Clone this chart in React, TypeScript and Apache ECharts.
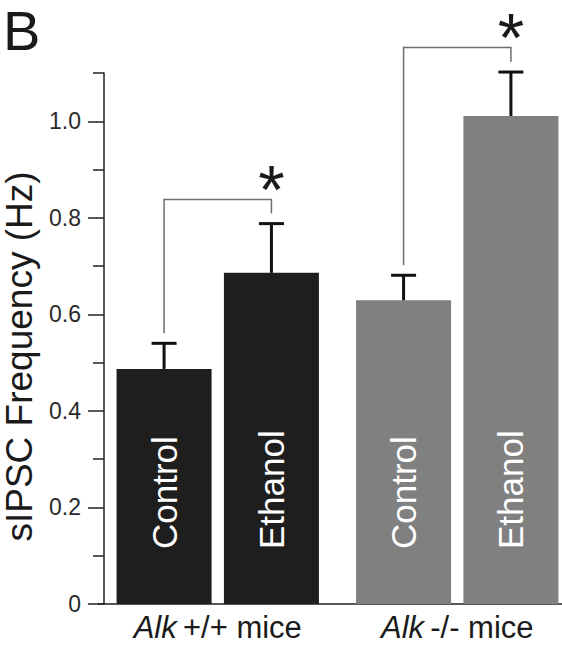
import React, { useEffect, useRef } from 'react';
import * as echarts from 'echarts';

const genotypes = ['Alk+/+ mice', 'Alk-/- mice'];
const treatments = ['Control', 'Ethanol'];
const controlMean = [0.487, 0.629];
const controlSem = [0.053, 0.052];
const ethanolMean = [0.686, 1.011];
const ethanolSem = [0.102, 0.091];
const bracketLevel = [0.838, 1.153];
const significance = ['*', '*'];
const yMajorTicks = [0, 0.2, 0.4, 0.6, 0.8, 1.0];
const yMinorTicks = [0.1, 0.3, 0.5, 0.7, 0.9, 1.1];
const yMin = 0;
const yMax = 1.1;
const groupColors = ['#1e1e1e', '#808080'];

const FONT = '"Liberation Sans", Arial, Helvetica, sans-serif';
const BAR_W = 95;
const BAR_GAP = 0.13;

export default function App() {
  const ref = useRef<HTMLDivElement>(null);
  useEffect(() => {
    if (!ref.current) return;
    const chart = echarts.init(ref.current, null, { renderer: 'svg' });
    const offset = (BAR_W * (1 + BAR_GAP)) / 2;
    const option: any = {
      animation: false,
      backgroundColor: '#ffffff',
      textStyle: { fontFamily: FONT },
      graphic: [
        {
          type: 'text',
          left: 3,
          top: 2,
          style: { text: 'B', fontSize: 56, fontFamily: FONT, fill: '#1a1a1a' },
        },
      ],
      grid: {
        left: 98,
        top: 73,
        width: 479,
        height: 531,
        containLabel: false,
        outerBoundsMode: 'none',
      },
      xAxis: {
        type: 'category',
        data: genotypes,
        axisLine: { show: true, lineStyle: { color: '#222', width: 1.5 } },
        axisTick: { show: false },
        axisLabel: {
          margin: 8,
          formatter: (v: string) => `{i|${v.slice(0, 3)}}{n|\u2009${v.slice(3)}}`,
          rich: {
            i: { fontSize: 31, fontStyle: 'italic', color: '#1a1a1a', fontFamily: FONT },
            n: { fontSize: 31, color: '#1a1a1a', fontFamily: FONT },
          },
        },
      },
      yAxis: [
        {
          type: 'value',
          min: yMin,
          max: yMax,
          offset: -6,
          name: 'sIPSC Frequency (Hz)',
          nameLocation: 'middle',
          nameGap: 66,
          nameTextStyle: { fontSize: 37, color: '#1a1a1a', fontFamily: FONT, padding: [0, 36, 0, 0] },
          axisLine: { show: true, lineStyle: { color: '#222', width: 1.5 } },
          axisTick: { show: true, length: 16, customValues: yMajorTicks, lineStyle: { color: '#222', width: 1.5 } },
          axisLabel: {
            margin: 23,
            customValues: yMajorTicks,
            fontSize: 23,
            color: '#2a2a2a',
            fontFamily: FONT,
            formatter: (v: number) => (v === 0 ? '0' : v.toFixed(1)),
          },
          splitLine: { show: false },
        },
        {
          type: 'value',
          min: yMin,
          max: yMax,
          offset: -6,
          position: 'left',
          axisLine: { show: false },
          axisTick: { show: true, length: 11, customValues: yMinorTicks, lineStyle: { color: '#222', width: 1.5 } },
          axisLabel: { show: false },
          splitLine: { show: false },
        },
      ],
      series: [
        {
          type: 'bar',
          name: treatments[0],
          yAxisIndex: 0,
          barWidth: BAR_W,
          barGap: `${BAR_GAP * 100}%`,
          data: controlMean.map((v, i) => ({ value: v, itemStyle: { color: groupColors[i] } })),
          label: {
            show: true,
            position: 'insideBottom',
            distance: 55,
            rotate: 90,
            align: 'left',
            verticalAlign: 'middle',
            formatter: treatments[0],
            color: '#ffffff',
            fontSize: 35,
            fontFamily: FONT,
          },
        },
        {
          type: 'bar',
          name: treatments[1],
          yAxisIndex: 0,
          barWidth: BAR_W,
          barGap: `${BAR_GAP * 100}%`,
          data: ethanolMean.map((v, i) => ({ value: v, itemStyle: { color: groupColors[i] } })),
          label: {
            show: true,
            position: 'insideBottom',
            distance: 55,
            rotate: 90,
            align: 'left',
            verticalAlign: 'middle',
            formatter: treatments[1],
            color: '#ffffff',
            fontSize: 35,
            fontFamily: FONT,
          },
        },
        {
          type: 'custom',
          yAxisIndex: 0,
          z: 10,
          clip: false,
          encode: { x: 0, y: 1 },
          data: genotypes.map((g, i) => [i, controlMean[i], controlSem[i], ethanolMean[i], ethanolSem[i], bracketLevel[i]]),
          renderItem: (params: any, api: any) => {
            const i = api.value(0);
            const cm = api.value(1);
            const cs = api.value(2);
            const em = api.value(3);
            const es = api.value(4);
            const bl = api.value(5);
            const center = api.coord([i, 0])[0];
            const xc = center - offset;
            const xe = center + offset;
            const yC = api.coord([i, cm])[1];
            const yCT = api.coord([i, cm + cs])[1];
            const yE = api.coord([i, em])[1];
            const yET = api.coord([i, em + es])[1];
            const yB = api.coord([i, bl])[1];
            const errStyle = { stroke: '#111', lineWidth: 3 };
            const capHalf = 12.5;
            const gap = 10;
            return {
              type: 'group',
              children: [
                { type: 'line', shape: { x1: xc, y1: yC, x2: xc, y2: yCT }, style: errStyle },
                { type: 'line', shape: { x1: xc - capHalf, y1: yCT, x2: xc + capHalf, y2: yCT }, style: errStyle },
                { type: 'line', shape: { x1: xe, y1: yE, x2: xe, y2: yET }, style: errStyle },
                { type: 'line', shape: { x1: xe - capHalf, y1: yET, x2: xe + capHalf, y2: yET }, style: errStyle },
                {
                  type: 'polyline',
                  shape: { points: [[xc, yCT - gap], [xc, yB], [xe, yB], [xe, yET - gap]] },
                  style: { stroke: '#6e6e6e', lineWidth: 1.5, fill: 'none' },
                },
                {
                  type: 'text',
                  style: {
                    text: significance[i],
                    x: xe,
                    y: yB - 22 + 12,
                    align: 'center',
                    verticalAlign: 'middle',
                    fontSize: 68,
                    fontFamily: FONT,
                    fill: '#1a1a1a',
                  },
                },
              ],
            };
          },
        },
      ],
    };
    chart.setOption(option);
    return () => chart.dispose();
  }, []);
  return (
    <div
      ref={ref}
      style={{ position: 'fixed', left: 0, top: 0, width: 562, height: 645, background: '#fff' }}
    />
  );
}
